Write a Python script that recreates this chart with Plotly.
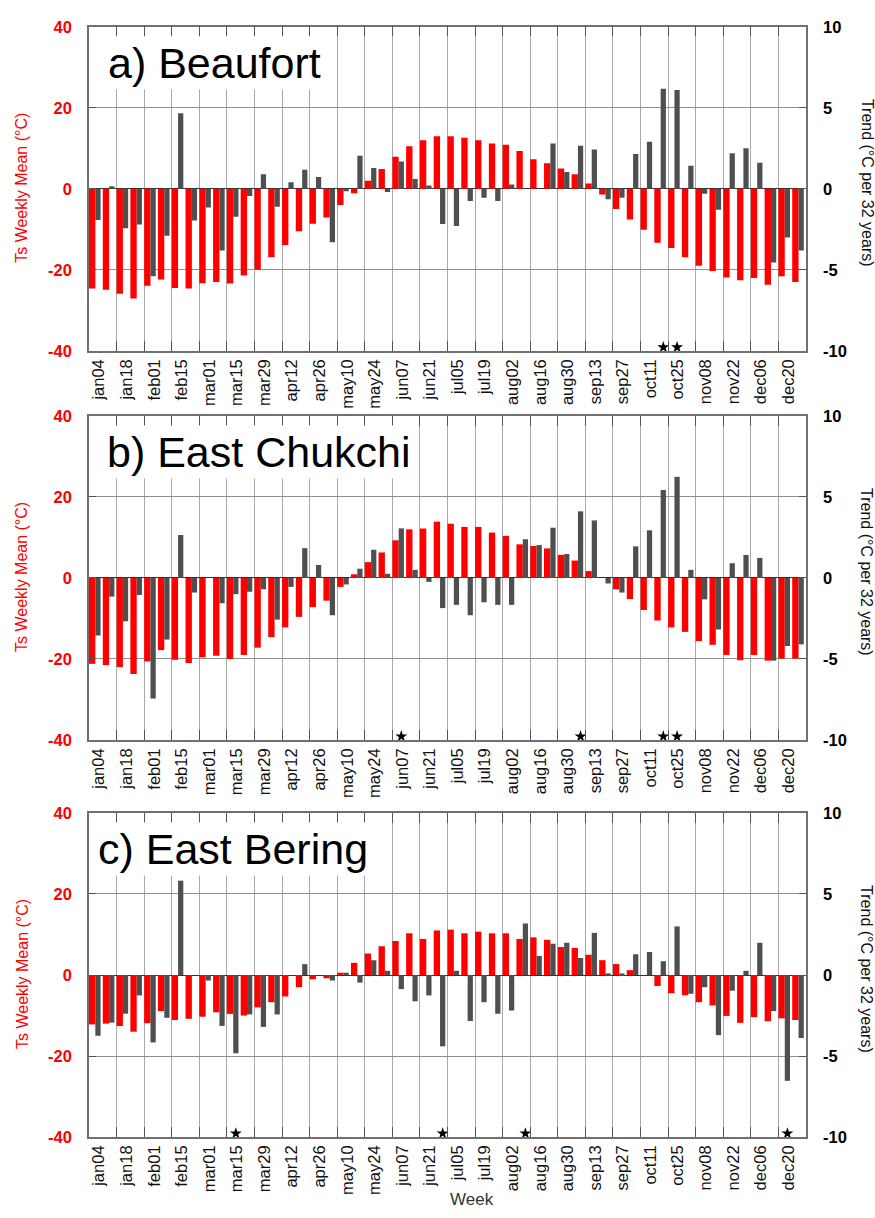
import plotly.graph_objects as go

# ---------------- data ----------------
week_idx = list(range(52))  # weekly bins starting jan04
tick_labels = ["jan04", "jan18", "feb01", "feb15", "mar01", "mar15", "mar29",
               "apr12", "apr26", "may10", "may24", "jun07", "jun21", "jul05",
               "jul19", "aug02", "aug16", "aug30", "sep13", "sep27", "oct11",
               "oct25", "nov08", "nov22", "dec06", "dec20"]
tick_pos = list(range(0, 52, 2))

# Ts weekly mean (deg C), left axis
ts_a = [-24.6, -24.9, -25.9, -27.1, -23.9, -22.4, -24.5, -24.6, -23.3, -23.0, -23.4, -21.4, -20.0,
        -16.9, -13.9, -10.5, -8.6, -7.1, -4.0, -1.1, 2.0, 4.9, 7.9, 10.5, 12.0, 13.0,
        13.0, 12.6, 12.0, 11.2, 10.9, 9.3, 7.3, 6.3, 5.0, 3.6, 1.3, -1.4, -5.0,
        -7.6, -10.1, -13.3, -14.6, -16.9, -19.0, -20.3, -21.9, -22.6, -22.0, -23.7, -21.6, -23.0]
ts_b = [-21.2, -21.5, -22.0, -23.7, -20.6, -17.8, -20.2, -21.0, -19.6, -19.2, -20.0, -19.0, -17.2,
        -14.6, -12.2, -9.6, -7.2, -5.6, -2.2, 0.9, 3.9, 6.3, 9.3, 12.0, 12.2, 13.9,
        13.4, 12.6, 12.6, 11.2, 10.4, 8.3, 7.9, 7.3, 5.7, 4.3, 1.7, 0.0, -2.8,
        -5.2, -7.9, -10.5, -12.2, -13.3, -15.6, -16.5, -19.0, -20.3, -19.0, -20.4, -19.9, -19.9]
ts_c = [-12.2, -12.0, -12.6, -14.0, -11.9, -8.9, -11.1, -10.8, -10.3, -9.2, -9.6, -10.0, -8.0,
        -6.7, -5.3, -3.0, -1.05, -0.8, 0.57, 3.0, 5.3, 7.1, 8.4, 10.3, 8.9, 11.0,
        11.2, 10.3, 10.7, 10.3, 10.3, 8.9, 9.3, 8.7, 6.9, 6.7, 5.0, 3.65, 2.7,
        1.2, 0.0, -2.7, -4.5, -5.0, -6.7, -7.5, -10.1, -11.8, -10.4, -11.4, -10.7, -11.1]

# Trend (deg C per 32 years), right axis
tr_a = [-1.92, 0.16, -2.43, -2.2, -5.4, -2.9, 4.66, -1.96, -1.15, -3.8, -1.72, -0.45, 0.9,
        -1.1, 0.4, 1.17, 0.73, -3.3, -0.15, 2.04, 1.28, -0.2, 1.68, 0.6, 0.2, -2.17,
        -2.3, -0.75, -0.55, -0.75, 0.26, 0.0, 0.0, 2.8, 1.03, 2.65, 2.43, -0.65, -0.55,
        2.15, 2.9, 6.17, 6.1, 1.42, -0.3, -1.3, 2.2, 2.5, 1.6, -4.55, -3.0, -3.8]
tr_b = [-3.55, -1.15, -2.67, -1.05, -7.44, -3.8, 2.65, -0.9, 0.0, -1.56, -1.0, -0.85, -0.7,
        -2.57, -0.55, 1.84, 0.8, -2.3, -0.4, 0.57, 1.74, 0.26, 3.06, 0.5, -0.24, -1.86,
        -1.66, -2.3, -1.5, -1.66, -1.66, 2.39, 2.03, 3.1, 1.48, 4.11, 3.55, -0.34, -0.9,
        1.95, 2.94, 5.43, 6.24, 0.5, -1.32, -3.18, 0.91, 1.42, 1.24, -5.1, -4.2, -4.1]
tr_c = [-3.75, -2.94, -2.39, -1.26, -4.16, -2.64, 5.82, 0.0, -0.34, -3.14, -4.83, -2.43, -3.2,
        -2.43, 0.0, 0.67, 0.0, -0.34, 0.14, -0.47, 0.91, 0.26, -0.87, -1.62, -1.26, -4.4,
        0.26, -2.84, -1.68, -2.39, -2.19, 3.18, 1.18, 1.93, 1.99, 1.05, 2.6, 0.1, 0.1,
        1.28, 1.42, 0.85, 3.0, -1.16, -0.75, -3.71, -0.97, 0.26, 1.99, -2.23, -6.53, -3.89]

# weeks with significant trend (marked with a star)
sig_a = [41, 42]
sig_b = [22, 35, 41, 42]
sig_c = [10, 25, 31, 50]

panel_titles = ["a) Beaufort", "b) East Chukchi", "c) East Bering"]

# ---------------- style / layout ----------------
W, H = 875, 1218
FONT = "Liberation Sans, Arial, sans-serif"
RED = "#ff0000"
GRAY = "#4f4f4f"
LINE = "#707070"
GRID = "#a9a9a9"
X0, X1 = 89, 806
TOPS = [18, 413, 816]
PH = 329
TITLE_LEFT = [105, 104, 95]
YL_RANGE = [-40, 40]
YR_RANGE = [-10, 10]

fig = go.Figure()
layout = dict(width=W, height=H, margin=dict(l=0, r=0, t=0, b=0),
              paper_bgcolor="white", plot_bgcolor="white", barmode="overlay",
              showlegend=False, annotations=[])

for p, (title, ts, tr, sig) in enumerate(zip(panel_titles, [ts_a, ts_b, ts_c],
                                              [tr_a, tr_b, tr_c],
                                              [sig_a, sig_b, sig_c]), start=1):
    xa = "x" if p == 1 else f"x{p}"
    yl = "y" if p == 1 else f"y{2 * p - 1}"
    yr = f"y{2 * p}"
    xkey = "xaxis" if p == 1 else f"xaxis{p}"
    ylkey = "yaxis" if p == 1 else f"yaxis{2 * p - 1}"
    yrkey = f"yaxis{2 * p}"

    fig.add_trace(go.Bar(x=week_idx, y=ts, xaxis=xa, yaxis=yl, marker_color=RED,
                         marker_line_width=0, offset=0.0, width=0.46))
    fig.add_trace(go.Bar(x=week_idx, y=tr, xaxis=xa, yaxis=yr, marker_color=GRAY,
                         marker_line_width=0, offset=0.46, width=0.38))
    fig.add_trace(go.Scatter(x=[i + 0.65 for i in sig], y=[YL_RANGE[0] + 0.9] * len(sig),
                             xaxis=xa, yaxis=yl, mode="markers", cliponaxis=False,
                             marker=dict(symbol="star", size=9, color="black",
                                         line=dict(width=0))))

    top = TOPS[p - 1]
    bot = top + PH
    dom_y = [1 - bot / H, 1 - top / H]
    dom_x = [X0 / W, X1 / W]

    layout[xkey] = dict(domain=dom_x, anchor=yl, range=[0, 52],
                        tickvals=tick_pos, ticktext=tick_labels, tickangle=-90,
                        ticklabelshift=10, ticks="inside", ticklen=10, tickcolor="#555",
                        mirror="ticks", showline=True, linecolor=LINE, linewidth=1.5,
                        showgrid=True, gridcolor=GRID, gridwidth=1, zeroline=False,
                        tickfont=dict(family=FONT, size=16.5, color="#111"))
    layout[ylkey] = dict(domain=dom_y, anchor=xa, range=YL_RANGE,
                         tickvals=[-40, -20, 0, 20, 40],
                         ticktext=["-40", "-20", "0", "20", "40"],
                         ticks="inside", ticklen=7, tickcolor="#555",
                         showline=True, linecolor=LINE, linewidth=1.5,
                         showgrid=True, gridcolor="#909090", gridwidth=1,
                         zeroline=True, zerolinecolor="#333", zerolinewidth=1.2,
                         ticklabelstandoff=12,
                         tickfont=dict(family=FONT, size=16.5, color=RED, weight="bold"))
    layout[yrkey] = dict(overlaying=yl, side="right", anchor=xa, range=YR_RANGE,
                         tickvals=[-10, -5, 0, 5, 10],
                         ticktext=["-10", "-5", "0", "5", "10"],
                         ticks="inside", ticklen=7, tickcolor="#555",
                         showline=True, linecolor=LINE, linewidth=1.5,
                         showgrid=False, zeroline=False, ticklabelstandoff=12,
                         tickfont=dict(family=FONT, size=16.5, color="black", weight="bold"))

    mid = top + PH / 2
    layout["annotations"] += [
        dict(text=title, xref="paper", yref="paper", x=TITLE_LEFT[p - 1] / W,
             y=1 - (top + 37) / H, xanchor="left", yanchor="middle", showarrow=False,
             bgcolor="white", borderpad=2,
             font=dict(family=FONT, size=43, color="black")),
        dict(text="Ts Weekly Mean (°C)", xref="paper", yref="paper", x=22 / W,
             y=1 - (mid - 1) / H, xanchor="center", yanchor="middle", textangle=-90,
             showarrow=False, font=dict(family=FONT, size=16, color=RED)),
        dict(text="Trend (°C per 32 years)", xref="paper", yref="paper", x=867 / W,
             y=1 - (mid - 6) / H, xanchor="center", yanchor="middle", textangle=90,
             showarrow=False, font=dict(family=FONT, size=16, color="#111")),
    ]

layout["annotations"].append(
    dict(text="Week", xref="paper", yref="paper", x=472 / W, y=1 - 1208 / H,
         xanchor="center", yanchor="middle", showarrow=False,
         font=dict(family=FONT, size=17, color="#333")))

fig.update_layout(**layout)
fig.write_html("out.html")
